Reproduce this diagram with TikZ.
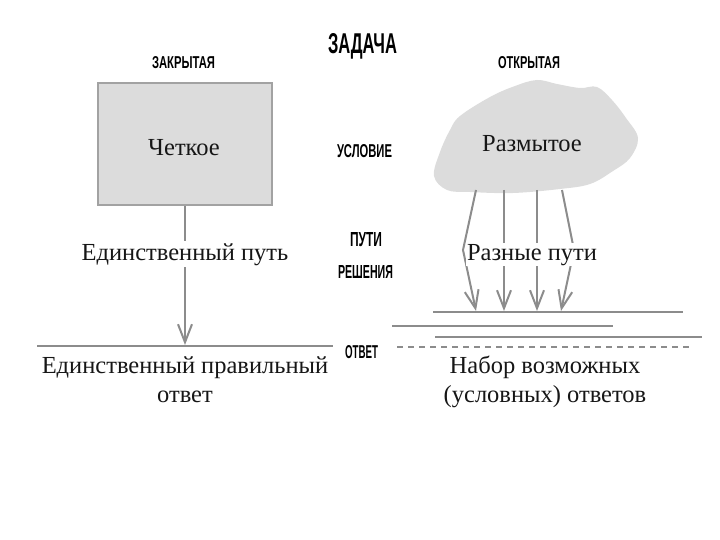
\documentclass[tikz,border=0pt]{standalone}
\usepackage{fontspec}
\setmainfont{Liberation Serif}
\newfontfamily\labfont{Liberation Sans}
\usetikzlibrary{arrows.meta}
\definecolor{boxfill}{HTML}{DCDCDC}
\definecolor{boxline}{HTML}{A2A2A2}
\definecolor{linegray}{HTML}{8C8C8C}
\definecolor{txt}{HTML}{161616}
\newcommand\hdlab[3]{\resizebox{#1}{#2}{\labfont\bfseries #3}}
\begin{document}
\begin{tikzpicture}[x=1pt,y=-1pt,
  hd/.style={inner sep=0pt,text=black},
  body/.style={font=\fontsize{24.5}{28.5}\selectfont,text=txt,inner sep=2pt},
  conn/.style={draw=linegray,line width=2pt,-{Straight Barb[length=18pt,width=14pt,line width=2pt]}},
  plain/.style={draw=linegray,line width=2pt},
  ansline/.style={draw=linegray,line width=1.8pt}]
\useasboundingbox (0,0) rectangle (720,540);
% headings
\node[hd] (zadacha) at (362.5,46) {\hdlab{69pt}{20pt}{ЗАДАЧА}};
\node[hd] (closed) at (183.5,63) {\hdlab{63pt}{12pt}{ЗАКРЫТАЯ}};
\node[hd] (open) at (529,63) {\hdlab{62pt}{12pt}{ОТКРЫТАЯ}};
\node[hd] (cond) at (364.5,151.5) {\hdlab{55pt}{13pt}{УСЛОВИЕ}};
\node[hd] (paths) at (366,240) {\hdlab{32pt}{14pt}{ПУТИ}};
\node[hd] (solv) at (365.5,271.5) {\hdlab{55pt}{13pt}{РЕШЕНИЯ}};
\node[hd] (answ) at (361.5,352.5) {\hdlab{33pt}{13pt}{ОТВЕТ}};
% closed task box
\node[draw=boxline,fill=boxfill,line width=2pt,minimum width=174pt,minimum height=122pt,inner sep=0pt] (box) at (185,144.5) {};
\node[body,anchor=base] (clear) at (184,156) {Четкое};
% open task cloud
\fill[boxfill] plot[smooth cycle,tension=0.6] coordinates {
 (537,80) (557,84) (580,88) (597,87) (612,100) (626,118) (638,138)
 (630,158) (613,171) (590,184) (560,189) (513,193) (470,192) (447,190)
 (434,176) (440,152) (450,130) (460,116) (490,97) (515,86)};
\node[body,anchor=base] (blur) at (532,152) {Размытое};
% left path
\node[body,anchor=base] (single) at (185,260) {Единственный путь};
\coordinate (ansL) at (185,345);
\draw[plain] (box.south) -- (single.north);
\draw[conn] (single.south) -- (ansL);
\coordinate (lineLa) at (37,346);
\coordinate (lineLb) at (333,346);
\draw[ansline] (lineLa) -- (lineLb);
\node[body,anchor=north,align=center] (right) at (185,355) {Единственный правильный\\ответ};
% right paths
\coordinate (s1) at (476,190); \coordinate (m1) at (463,250); \coordinate (t1) at (476,311);
\coordinate (s2) at (504,190); \coordinate (t2) at (504,311);
\coordinate (s3) at (537,190); \coordinate (t3) at (537,311);
\coordinate (s4) at (562,190); \coordinate (m4) at (574,250); \coordinate (t4) at (561,311);
\draw[conn] (s1) -- (m1) -- (t1);
\draw[conn] (s2) -- (t2);
\draw[conn] (s3) -- (t3);
\draw[conn] (s4) -- (m4) -- (t4);
\node[body,anchor=base,fill=white,inner sep=1pt] (various) at (532,260) {Разные пути};
% answer lines
\coordinate (r1a) at (433,312); \coordinate (r1b) at (683,312);
\coordinate (r2a) at (392,326); \coordinate (r2b) at (613,326);
\coordinate (r3a) at (435,337); \coordinate (r3b) at (702,337);
\coordinate (r4a) at (397,347); \coordinate (r4b) at (693,347);
\draw[draw=linegray,line width=2.4pt] (r1a) -- (r1b);
\draw[ansline] (r2a) -- (r2b);
\draw[ansline] (r3a) -- (r3b);
\draw[ansline,dash pattern=on 6pt off 5pt] (r4a) -- (r4b);
\node[body,anchor=north,align=center] (set) at (545,354) {Набор возможных\\(условных) ответов};
\end{tikzpicture}
\end{document}
